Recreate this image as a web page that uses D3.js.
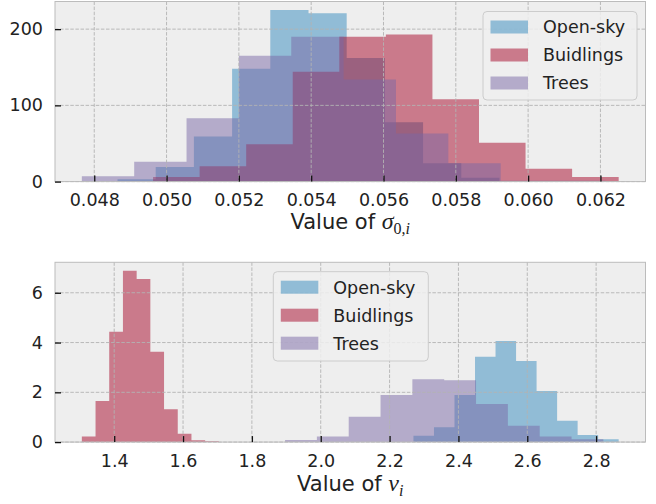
<!DOCTYPE html>
<html>
<head>
<meta charset="utf-8">
<script src="https://cdn.jsdelivr.net/npm/d3@7"></script>
<style>
  body { margin: 0; background: #fff; }
  svg { display: block; font-family: "DejaVu Sans", sans-serif; }
</style>
</head>
<body>
<main></main>
<script>
// series names and colours (bmh style)
const seriesNames = ["Open-sky", "Buidlings", "Trees"];
const seriesColors = ["#348ABD", "#A60628", "#7A68A6"];

// top panel: sigma_{0,i}, counts per bin (10 equal bins between lo and hi)
const sigmaRange = [[0.048644, 0.059207], [0.049627, 0.062504], [0.047657, 0.062137]];
const sigmaOpenSky = [3, 19, 59, 148, 225, 221, 162, 78, 24, 5];
const sigmaBuildings = [6, 20, 49, 144, 190, 193, 108, 51, 17, 6];
const sigmaTrees = [7, 26, 83, 165, 190, 134, 63, 24, 1, 1];
const sigmaXTicks = [0.048, 0.050, 0.052, 0.054, 0.056, 0.058, 0.060, 0.062];
const sigmaYTicks = [0, 100, 200];

// bottom panel: nu_i, densities per bin
const nuRange = [[2.2694, 2.8655], [1.306, 1.704], [1.8964, 2.821]];
const nuOpenSky = [0.26, 0.60, 1.89, 3.43, 4.06, 3.26, 2.05, 0.86, 0.29, 0.11];
const nuBuildings = [0.22, 1.65, 4.43, 6.88, 6.55, 3.63, 1.32, 0.34, 0.07, 0.03];
const nuTrees = [0.08, 0.22, 1.02, 1.89, 2.53, 2.49, 1.53, 0.66, 0.22, 0.11];
const nuXTicks = [1.4, 1.6, 1.8, 2.0, 2.2, 2.4, 2.6, 2.8];
const nuYTicks = [0, 2, 4, 6];

var width = 656;
var height = 504;
var svg = d3.select("main")
  .append("svg")
  .attr("width", width)
  .attr("height", height);

function drawPanel(p) {
  const g = svg.append("g");

  // matplotlib style 5% margins
  const lo = d3.min(p.ranges, r => r[0]);
  const hi = d3.max(p.ranges, r => r[1]);
  const pad = (hi - lo) * 0.05;
  const ymax = d3.max(p.values, v => d3.max(v)) * 1.05;

  const xScale = d3.scaleLinear().domain([lo - pad, hi + pad]).range([p.left, p.right]);
  const yScale = d3.scaleLinear().domain([0, ymax]).range([p.bottom, p.top]);

  // background
  g.append("rect")
    .attr("x", p.left).attr("y", p.top)
    .attr("width", p.right - p.left).attr("height", p.bottom - p.top)
    .attr("fill", "#eeeeee");

  // histograms as stepfilled areas
  const area = d3.area()
    .curve(d3.curveStepAfter)
    .x(d => xScale(d[0]))
    .y0(yScale(0))
    .y1(d => yScale(d[1]));

  p.values.forEach((vals, s) => {
    const r = p.ranges[s];
    const w = (r[1] - r[0]) / vals.length;
    const pts = vals.map((v, i) => [r[0] + i * w, v]);
    pts.push([r[1], vals[vals.length - 1]]);
    g.append("path")
      .attr("d", area(pts))
      .attr("fill", seriesColors[s])
      .attr("fill-opacity", 0.5);
  });

  // grid (drawn over the bars like matplotlib)
  const grid = g.append("g")
    .attr("stroke", "#b2b2b2")
    .attr("stroke-width", 0.9)
    .attr("stroke-dasharray", "3.5,1.6");
  grid.selectAll("line.gx").data(p.xTicks).enter().append("line")
    .attr("x1", d => xScale(d)).attr("x2", d => xScale(d))
    .attr("y1", p.top).attr("y2", p.bottom);
  grid.selectAll("line.gy").data(p.yTicks).enter().append("line")
    .attr("x1", p.left).attr("x2", p.right)
    .attr("y1", d => yScale(d)).attr("y2", d => yScale(d));

  // frame
  g.append("rect")
    .attr("x", p.left).attr("y", p.top)
    .attr("width", p.right - p.left).attr("height", p.bottom - p.top)
    .attr("fill", "none")
    .attr("stroke", "#bcbcbc")
    .attr("stroke-width", 1);

  // axes with inward ticks
  const xAxis = d3.axisBottom(xScale)
    .tickValues(p.xTicks)
    .tickFormat(p.xFormat)
    .tickSizeInner(-6)
    .tickSizeOuter(0)
    .tickPadding(12);
  const xg = g.append("g")
    .attr("transform", "translate(0," + p.bottom + ")")
    .call(xAxis);

  const yAxis = d3.axisLeft(yScale)
    .tickValues(p.yTicks)
    .tickFormat(d3.format("d"))
    .tickSizeInner(-6)
    .tickSizeOuter(0)
    .tickPadding(12);
  const yg = g.append("g")
    .attr("transform", "translate(" + p.left + ",0)")
    .call(yAxis);

  [xg, yg].forEach(a => {
    a.select(".domain").remove();
    a.selectAll(".tick line").attr("stroke", "#111").attr("stroke-width", 1.3);
    a.selectAll(".tick text")
      .attr("fill", "#222")
      .style("font-size", "17.5px")
      .style("font-family", "DejaVu Sans");
  });

  // axis label with math symbol
  const lab = g.append("text")
    .attr("x", (p.left + p.right) / 2)
    .attr("y", p.labelY)
    .attr("text-anchor", "middle")
    .attr("fill", "#222")
    .style("font-size", "21px");
  lab.append("tspan").text("Value of ");
  lab.append("tspan")
    .style("font-family", "Liberation Serif, serif")
    .style("font-style", "italic")
    .style("font-size", "24px")
    .text(p.symbol);
  p.sub.forEach(s => {
    lab.append("tspan")
      .attr("baseline-shift", "-30%")
      .style("font-family", "Liberation Serif, serif")
      .style("font-style", s.italic ? "italic" : "normal")
      .style("font-size", "16px")
      .text(s.t);
  });

  // legend
  const lg = g.append("g");
  lg.append("rect")
    .attr("x", p.legend.x).attr("y", p.legend.y)
    .attr("width", p.legend.w).attr("height", p.legend.h)
    .attr("rx", 4)
    .attr("fill", "#eeeeee")
    .attr("fill-opacity", 0.85)
    .attr("stroke", "#cccccc")
    .attr("stroke-width", 1);
  seriesNames.forEach((name, i) => {
    const cy = p.legend.y + 15.5 + i * 28;
    lg.append("rect")
      .attr("x", p.legend.x + 7.5).attr("y", cy - 6.5)
      .attr("width", 37.5).attr("height", 13)
      .attr("fill", seriesColors[i])
      .attr("fill-opacity", 0.5);
    lg.append("text")
      .attr("x", p.legend.x + 60).attr("y", cy + 6.3)
      .attr("fill", "#222")
      .style("font-size", "17.5px")
      .text(name);
  });
}

drawPanel({
  left: 55, right: 645.5, top: 1.5, bottom: 181.6,
  ranges: sigmaRange,
  values: [sigmaOpenSky, sigmaBuildings, sigmaTrees],
  xTicks: sigmaXTicks, yTicks: sigmaYTicks,
  xFormat: d3.format(".3f"),
  labelY: 229,
  symbol: "\u03C3", sub: [{t: "0,", italic: false}, {t: "i", italic: true}],
  legend: {x: 483, y: 11.5, w: 154, h: 88.5}
});

drawPanel({
  left: 55, right: 645.5, top: 262.3, bottom: 442.1,
  ranges: nuRange,
  values: [nuOpenSky, nuBuildings, nuTrees],
  xTicks: nuXTicks, yTicks: nuYTicks,
  xFormat: d3.format(".1f"),
  labelY: 491,
  symbol: "\u03BD", sub: [{t: "i", italic: true}],
  legend: {x: 273.3, y: 271.7, w: 155, h: 89.3}
});
</script>
</body>
</html>
